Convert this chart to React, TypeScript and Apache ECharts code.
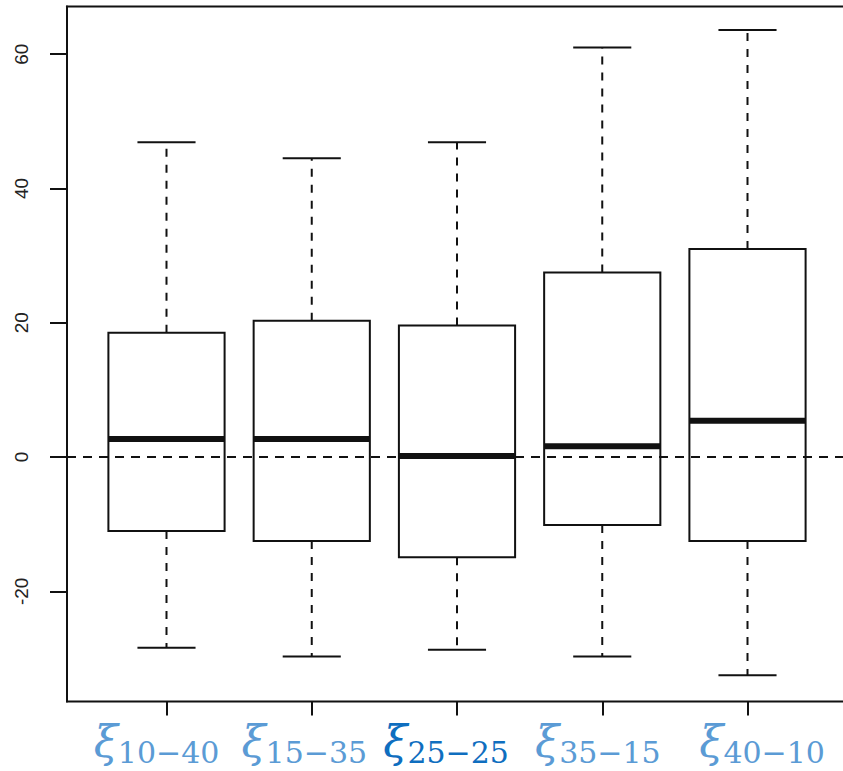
import React, { useEffect, useRef } from "react";
import * as echarts from "echarts";

// ---- data ----
const categories = ["10−40", "15−35", "25−25", "35−15", "40−10"];
const positions = [1, 2, 3, 4, 5];
const lowerWhisker = [-28.4, -29.7, -28.7, -29.7, -32.5];
const q1 = [-11.0, -12.5, -14.9, -10.1, -12.5];
const median = [2.7, 2.7, 0.15, 1.6, 5.4];
const q3 = [18.5, 20.3, 19.6, 27.5, 31.0];
const upperWhisker = [46.9, 44.5, 46.9, 61.0, 63.6];
const yTicks = [-20, 0, 20, 40, 60];
const labelColors = ["#5b9bd5", "#5b9bd5", "#0f6ebf", "#5b9bd5", "#5b9bd5"];
const labelShift = [-10, -7.5, -11, -4.5, 14.5];

const INK = "#111111";

export default function App() {
  const ref = useRef<HTMLDivElement>(null);

  useEffect(() => {
    if (!ref.current) return;
    const chart = echarts.init(ref.current, null, { renderer: "svg" });

    const data = positions.map((p, i) => [
      p,
      lowerWhisker[i],
      q1[i],
      median[i],
      q3[i],
      upperWhisker[i],
    ]);

    const rich: any = {};
    categories.forEach((_, i) => {
      const s = labelShift[i];
      rich["x" + i] = {
        fontFamily: "DejaVu Serif",
        fontStyle: "italic",
        fontSize: 44,
        color: labelColors[i],
        lineHeight: 52,
        padding: [0, 0, 0, s > 0 ? 2 * s : 0],
      };
      rich["s" + i] = {
        fontFamily: "DejaVu Serif",
        fontSize: 30,
        color: labelColors[i],
        verticalAlign: "bottom",
        lineHeight: 30,
        padding: [0, s < 0 ? -2 * s : 0, 0, 0],
      };
    });

    const option: any = {
      animation: false,
      backgroundColor: "#ffffff",
      grid: {
        show: true,
        left: 67,
        top: 6.5,
        width: 780,
        height: 695,
        containLabel: false,
        outerBoundsMode: "none",
        borderColor: INK,
        borderWidth: 2,
        backgroundColor: "transparent",
      },
      xAxis: {
        type: "value",
        min: 0.315,
        max: 5.685,
        splitLine: { show: false },
        axisLine: { show: false, onZero: false },
        axisTick: {
          show: true,
          customValues: positions,
          length: 14,
          lineStyle: { color: INK, width: 2 },
        },
        axisLabel: {
          show: true,
          customValues: positions,
          margin: 14,
          formatter: (v: number) => {
            const i = Math.round(v) - 1;
            return `{x${i}|ξ}{s${i}|${categories[i]}}`;
          },
          rich,
        },
      },
      yAxis: {
        type: "value",
        min: -36.4,
        max: 67.1,
        splitLine: { show: false },
        axisLine: { show: true, onZero: false, lineStyle: { color: INK, width: 2 } },
        axisTick: {
          show: true,
          customValues: yTicks,
          length: 17,
          lineStyle: { color: INK, width: 2 },
        },
        axisLabel: {
          show: true,
          customValues: yTicks,
          rotate: 90,
          margin: 36,
          fontSize: 19,
          fontFamily: "Liberation Sans",
          color: "#222222",
        },
      },
      series: [
        {
          type: "custom",
          data,
          encode: { x: 0, y: [1, 2, 3, 4, 5] },
          renderItem: (params: any, api: any) => {
            const x = api.value(0);
            const pLo = api.coord([x, api.value(1)]);
            const pQ1 = api.coord([x, api.value(2)]);
            const pMed = api.coord([x, api.value(3)]);
            const pQ3 = api.coord([x, api.value(4)]);
            const pHi = api.coord([x, api.value(5)]);
            const w = api.size([0.8, 0])[0];
            const cx = pLo[0];
            const capHalf = w / 4;
            const solid = { stroke: INK, lineWidth: 2, fill: null };
            const dashed = { stroke: INK, lineWidth: 2, lineDash: [8, 8], fill: null };
            return {
              type: "group",
              children: [
                { type: "line", shape: { x1: cx, y1: pQ3[1], x2: cx, y2: pHi[1] }, style: dashed },
                { type: "line", shape: { x1: cx, y1: pQ1[1], x2: cx, y2: pLo[1] }, style: dashed },
                { type: "line", shape: { x1: cx - capHalf, y1: pHi[1], x2: cx + capHalf, y2: pHi[1] }, style: solid },
                { type: "line", shape: { x1: cx - capHalf, y1: pLo[1], x2: cx + capHalf, y2: pLo[1] }, style: solid },
                {
                  type: "rect",
                  shape: { x: cx - w / 2, y: pQ3[1], width: w, height: pQ1[1] - pQ3[1] },
                  style: { stroke: INK, lineWidth: 2, fill: "none" },
                },
                {
                  type: "line",
                  shape: { x1: cx - w / 2, y1: pMed[1], x2: cx + w / 2, y2: pMed[1] },
                  style: { stroke: INK, lineWidth: 6, lineCap: "butt" },
                },
              ],
            };
          },
          markLine: {
            silent: true,
            symbol: ["none", "none"],
            label: { show: false },
            lineStyle: { color: INK, width: 2, type: [9, 7] },
            data: [{ yAxis: 0 }],
          },
        },
      ],
    };

    chart.setOption(option);
    return () => chart.dispose();
  }, []);

  return (
    <div
      ref={ref}
      style={{ position: "fixed", left: 0, top: 0, width: 843, height: 771, background: "#fff" }}
    />
  );
}
